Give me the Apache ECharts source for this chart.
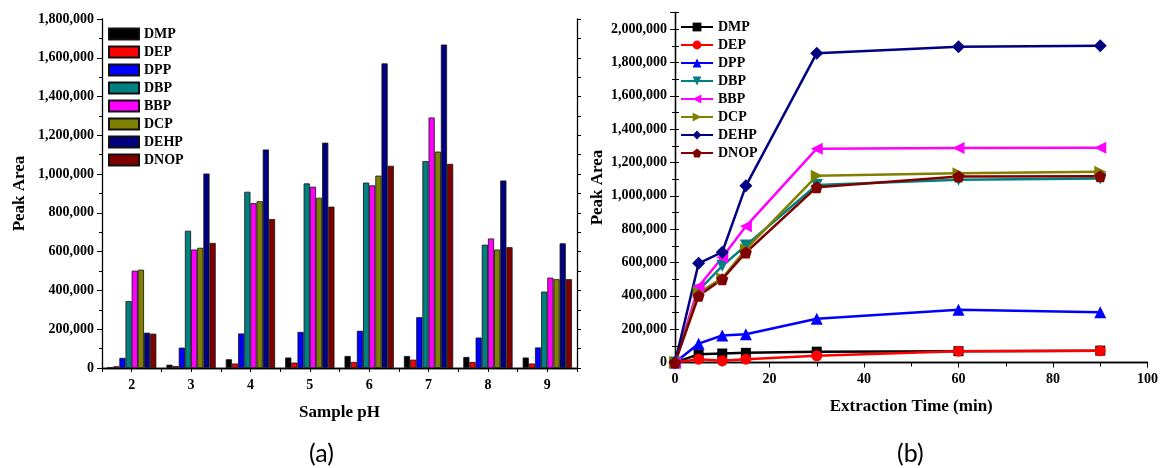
<!DOCTYPE html>
<html>
<head>
<meta charset="utf-8">
<title>Peak Area</title>
<script src="https://cdn.jsdelivr.net/npm/echarts@6/dist/echarts.min.js"></script>
<style>
    html, body { margin: 0; padding: 0; background: #fff; }
    #main { width: 1161px; height: 468px; }
</style>
</head>
<body>
<div id="main"></div>
<script>
// 化合物名称与颜色
var names = ['DMP', 'DEP', 'DPP', 'DBP', 'BBP', 'DCP', 'DEHP', 'DNOP'];
var colors = ['#000000', '#ff0000', '#0000ff', '#008080', '#ff00ff', '#808000', '#000080', '#800000'];

// (a) 样品pH
var phList = ['2', '3', '4', '5', '6', '7', '8', '9'];
var phDMP  = [3000, 17000, 45000, 54000, 62000, 62000, 57000, 54000];
var phDEP  = [9000, 10000, 23000, 28000, 31000, 43000, 31000, 23000];
var phDPP  = [52000, 105000, 178000, 186000, 192000, 262000, 157000, 106000];
var phDBP  = [345000, 708000, 909000, 952000, 956000, 1067000, 636000, 394000];
var phBBP  = [502000, 611000, 850000, 935000, 942000, 1292000, 668000, 466000];
var phDCP  = [507000, 620000, 860000, 878000, 992000, 1116000, 611000, 458000];
var phDEHP = [182000, 1003000, 1127000, 1162000, 1571000, 1668000, 967000, 643000];
var phDNOP = [177000, 645000, 768000, 832000, 1043000, 1053000, 623000, 458000];

// (b) 萃取时间
var timeList = [0, 5, 10, 15, 30, 60, 90];
var tDMP  = [0, 49000, 54000, 58000, 65000, 68000, 71000];
var tDEP  = [0, 20000, 10000, 20000, 40000, 68000, 70000];
var tDPP  = [0, 113000, 162000, 169000, 262000, 316000, 302000];
var tDBP  = [0, 432000, 580000, 702000, 1065000, 1097000, 1104000];
var tBBP  = [0, 456000, 630000, 817000, 1283000, 1287000, 1289000];
var tDCP  = [0, 420000, 505000, 680000, 1120000, 1135000, 1145000];
var tDEHP = [0, 595000, 662000, 1060000, 1856000, 1894000, 1900000];
var tDNOP = [0, 400000, 500000, 660000, 1052000, 1116000, 1118000];

var phData = [phDMP, phDEP, phDPP, phDBP, phBBP, phDCP, phDEHP, phDNOP];
var tData = [tDMP, tDEP, tDPP, tDBP, tBBP, tDCP, tDEHP, tDNOP];

// 折线图的标记形状
var symbols = [
    'rect',
    'circle',
    'triangle',
    'path://M0,0 L10,0 L5,9 Z',
    'path://M9,0 L9,10 L0,5 Z',
    'path://M0,0 L9,5 L0,10 Z',
    'diamond',
    'path://M5,0 L10,3.8 L8.1,10 L1.9,10 L0,3.8 Z'
];
var symbolSizes = [10, 11, 12, 12, 12, 12, 13, 12];

var serif = 'Liberation Serif';

function thousands(v) {
    return Number(v).toLocaleString('en-US');
}

var myChart = echarts.init(document.getElementById('main'));

var series = [];
for (var i = 0; i < names.length; i++) {
    series.push({
        name: names[i],
        type: 'bar',
        xAxisIndex: 0,
        yAxisIndex: 0,
        barGap: '0%',
        barCategoryGap: '17%',
        itemStyle: {
            color: colors[i],
            borderColor: '#111',
            borderWidth: 0.8
        },
        data: phData[i]
    });
}
for (var j = 0; j < names.length; j++) {
    var pts = [];
    for (var k = 0; k < timeList.length; k++) {
        pts.push([timeList[k], tData[j][k]]);
    }
    series.push({
        name: names[j] + ' ',
        type: 'line',
        xAxisIndex: 2,
        yAxisIndex: 2,
        symbol: symbols[j],
        symbolSize: symbolSizes[j],
        showAllSymbol: true,
        lineStyle: { color: colors[j], width: 2.5 },
        itemStyle: { color: colors[j] },
        data: pts
    });
}

var axisLineStyle = { lineStyle: { color: '#000', width: 1.3 } };
var labelStyle = { fontFamily: serif, fontWeight: 'bold', fontSize: 14, color: '#000' };
var nameStyle = { fontFamily: serif, fontWeight: 'bold', fontSize: 17, color: '#000' };

option = {
    animation: false,
    grid: [
        { left: 102, top: 19, width: 475, height: 349 },
        { left: 675, top: 12.5, width: 476, height: 350 }
    ],
    legend: [
        {
            orient: 'vertical',
            left: 108,
            top: 27,
            padding: 0,
            itemWidth: 30,
            itemHeight: 11,
            itemGap: 4,
            icon: 'rect',
            textStyle: { fontFamily: serif, fontWeight: 'bold', fontSize: 14, color: '#000', lineHeight: 14 },
            data: names
        },
        {
            orient: 'vertical',
            left: 680,
            top: 20,
            padding: 0,
            itemWidth: 32,
            itemHeight: 11,
            itemGap: 4,
            textStyle: { fontFamily: serif, fontWeight: 'bold', fontSize: 14, color: '#000', lineHeight: 14 },
            formatter: function (n) { return n.trim(); },
            data: names.map(function (n) { return n + ' '; })
        }
    ],
    xAxis: [
        {
            gridIndex: 0,
            type: 'category',
            data: phList,
            boundaryGap: true,
            name: 'Sample pH',
            nameLocation: 'middle',
            nameGap: 36,
            nameTextStyle: nameStyle,
            axisLine: axisLineStyle,
            axisTick: { alignWithLabel: true, length: 5, lineStyle: { color: '#000' } },
            axisLabel: Object.assign({ margin: 10 }, labelStyle),
            splitLine: { show: false }
        },
        {
            // 上边框刻度
            gridIndex: 0,
            type: 'value',
            position: 'top',
            min: 0,
            max: 16,
            interval: 1,
            axisLine: axisLineStyle,
            axisTick: { inside: true, length: 4, lineStyle: { color: '#000' } },
            axisLabel: { show: false },
            splitLine: { show: false }
        },
        {
            gridIndex: 1,
            type: 'value',
            min: 0,
            max: 100,
            interval: 20,
            name: 'Extraction Time (min)',
            nameLocation: 'middle',
            nameGap: 36,
            nameTextStyle: nameStyle,
            axisLine: axisLineStyle,
            axisTick: { length: 5, lineStyle: { color: '#000' } },
            minorTick: { show: true, splitNumber: 2, length: 3, lineStyle: { color: '#000' } },
            axisLabel: Object.assign({ margin: 10 }, labelStyle),
            splitLine: { show: false }
        },
        {
            gridIndex: 1,
            type: 'value',
            position: 'top',
            min: 0,
            max: 100,
            interval: 10,
            axisLine: axisLineStyle,
            axisTick: { inside: true, length: 4, lineStyle: { color: '#000' } },
            axisLabel: { show: false },
            splitLine: { show: false }
        }
    ],
    yAxis: [
        {
            gridIndex: 0,
            type: 'value',
            min: 0,
            max: 1800000,
            interval: 200000,
            name: 'Peak Area',
            nameLocation: 'middle',
            nameGap: 74,
            nameTextStyle: nameStyle,
            axisLine: { show: true, lineStyle: { color: '#000', width: 1.3 } },
            axisTick: { show: true, length: 5, lineStyle: { color: '#000' } },
            minorTick: { show: true, splitNumber: 2, length: 3, lineStyle: { color: '#000' } },
            axisLabel: Object.assign({ margin: 8, formatter: thousands }, labelStyle),
            splitLine: { show: false }
        },
        {
            gridIndex: 0,
            type: 'value',
            position: 'right',
            min: 0,
            max: 1800000,
            interval: 100000,
            axisLine: { show: true, lineStyle: { color: '#000', width: 1.3 } },
            axisTick: { show: true, length: 4, lineStyle: { color: '#000' } },
            axisLabel: { show: false },
            splitLine: { show: false }
        },
        {
            gridIndex: 1,
            type: 'value',
            min: 0,
            max: 2100000,
            interval: 200000,
            name: 'Peak Area',
            nameLocation: 'middle',
            nameGap: 69,
            nameTextStyle: nameStyle,
            axisLine: { show: true, lineStyle: { color: '#000', width: 1.3 } },
            axisTick: { show: true, length: 5, lineStyle: { color: '#000' } },
            minorTick: { show: true, splitNumber: 2, length: 3, lineStyle: { color: '#000' } },
            axisLabel: Object.assign({ margin: 8, formatter: thousands, showMaxLabel: false }, labelStyle),
            splitLine: { show: false }
        },
        {
            gridIndex: 1,
            type: 'value',
            position: 'right',
            min: 0,
            max: 2100000,
            interval: 100000,
            axisLine: { show: true, lineStyle: { color: '#000', width: 1.3 } },
            axisTick: { show: true, length: 4, lineStyle: { color: '#000' } },
            axisLabel: { show: false },
            splitLine: { show: false }
        }
    ],
    graphic: [
        {
            type: 'text', left: 309, top: 441,
            style: { text: '(a)', font: '25px Lato', fill: '#000' }
        },
        {
            type: 'text', left: 897, top: 441,
            style: { text: '(b)', font: '25px Lato', fill: '#000' }
        }
    ],
    series: series
};

myChart.setOption(option, true);
</script>
</body>
</html>
